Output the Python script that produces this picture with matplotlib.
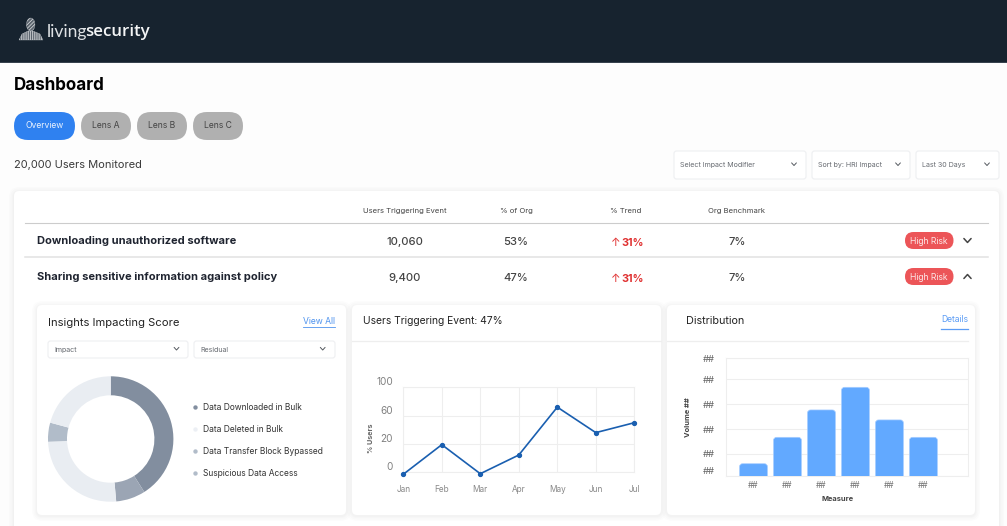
import numpy as np
import matplotlib
matplotlib.use("Agg")
import matplotlib.pyplot as plt
from matplotlib.patches import FancyBboxPatch, Rectangle, Ellipse, Polygon

W, H = 1007, 526
FONT = ["Inter", "DejaVu Sans"]
plt.rcParams["font.family"] = FONT
plt.rcParams["hatch.linewidth"] = 0.5

# chart values
tabs = ["Overview", "Lens A", "Lens B", "Lens C"]
filters = ["Select Impact Modifier", "Sort by: HRI Impact", "Last 30 Days"]
columns = ["Users Triggering Event", "% of Org", "% Trend", "Org Benchmark"]
events = ["Downloading unauthorized software", "Sharing sensitive information against policy"]
event_users = ["10,060", "9,400"]
event_org = ["53%", "47%"]
event_trend = ["31%", "31%"]
event_bench = ["7%", "7%"]

donut_labels = ["Data Downloaded in Bulk", "Data Deleted in Bulk",
                "Data Transfer Block Bypassed", "Suspicious Data Access"]
donut_values = [41, 7.6, 25.7, 4.9, 20.8]
donut_colors = ["#828e9f", "#9ba5b4", "#e9edf2", "#b1bcc9", "#e9edf2"]
legend_colors = ["#828e9f", "#eceff4", "#b1bcc9", "#b1bcc9"]

months = ["Jan", "Feb", "Mar", "Apr", "May", "Jun", "Jul"]
users_pct = [-1.4, 19.5, -1, 12.2, 72, 36, 50]
users_ticks = [0, 20, 60, 100]

measure_labels = ["##", "##", "##", "##", "##", "##"]
volume = [10.2, 32.7, 56, 75.3, 47.5, 32.7]
volume_ticks = [0, 18.75, 39.5, 60.8, 82, 100]

fig = plt.figure(figsize=(W / 100, H / 100), dpi=100, facecolor="#fdfdfd")
ui = fig.add_axes([0, 0, 1, 1])
ui.set_xlim(0, W)
ui.set_ylim(H, 0)
ui.axis("off")


def T(x, y, s, px, color="#333333", ha="left", weight="normal", **kw):
    return ui.text(x, y + 1, s, fontsize=px * 0.72, color=color, ha=ha, va="center",
                   fontweight=weight, **kw)


def box(x0, y0, x1, y1, r, fc, ec="none", lw=0.8, z=1, **kw):
    p = FancyBboxPatch((x0, y0), x1 - x0, y1 - y0, boxstyle=f"round,pad=0,rounding_size={r}",
                       fc=fc, ec=ec, lw=lw, zorder=z, **kw)
    ui.add_patch(p)
    return p


def card(x0, y0, x1, y1, z=1):
    # soft shadow from a few faint boxes
    for g in [5, 3.5, 2, 1]:
        box(x0 - g, y0 - g + 1, x1 + g, y1 + g + 1, 5 + g, "#000000", z=z, alpha=0.012)
    box(x0, y0, x1, y1, 5, "white", z=z)


def chevron(x, y, up=False, size=3.5, color="#555555", lw=1.0):
    d = -size * 0.55 if up else size * 0.55
    ui.plot([x - size, x, x + size], [y - d, y + d, y - d], color=color, lw=lw, zorder=5,
            solid_capstyle="round")


def dropdown(x0, y0, x1, y1, s, chev_x):
    box(x0, y0, x1, y1, 2.5, "white", ec="#eeeff1", z=4)
    T(x0 + 6, (y0 + y1) / 2 - 0.5, s, 7.1, color="#666a70", zorder=5)
    chevron(chev_x, (y0 + y1) / 2 - 0.8, size=2.4, color="#555a60", lw=0.7)


# header
ui.add_patch(Rectangle((0, 0), W, 62.5, fc="#17232f", ec="none"))
ui.plot([0, W], [62.3, 62.3], color="#39444f", lw=0.7)
ui.add_patch(Ellipse((30.7, 24.5), 8.5, 13, fc="#59626c", ec="#e2e4e6", lw=0.2, hatch="/////////"))
ui.add_patch(Polygon([[19, 40], [22, 34], [28, 31], [33, 31], [40, 34], [43, 40]],
                     fc="#59626c", ec="#e2e4e6", lw=0.2, hatch="|||||||||"))
T(46.5, 31, "living", 17.5, color="#dfe2e5", family="Lato")
T(85, 31, "security", 16.9, color="#f4f5f6", weight="semibold", family="Open Sans")

T(14, 84, "Dashboard", 17, color="black", weight="bold")

# tabs
tab_x = [(14, 75), (81, 131), (137, 187), (193, 243)]
for i, (s, (x0, x1)) in enumerate(zip(tabs, tab_x)):
    box(x0, 112, x1, 140, 14, "#2f81f0" if i == 0 else "#b0b0b0", z=2)
    T((x0 + x1) / 2, 125, s, 8.6, color="#eaf2fe" if i == 0 else "#444444", ha="center", zorder=3)

T(14, 164.5, "20,000 Users Monitored", 11.1, color="#3a3a3a")

# filters
dropdown(674, 151, 806, 179, filters[0], 794)
dropdown(812, 151, 910, 179, filters[1], 898)
dropdown(916, 151, 999, 179, filters[2], 987)

# main table card, runs off the bottom
card(14, 191, 999, 560)
col_x = [405, 516, 626, 737]
for x, s in zip(col_x, columns):
    T(x, 210, s, 7.7, color="#444444", ha="center", zorder=3)
ui.plot([25, 988], [223, 223], color="#cccccc", lw=0.8, zorder=3)
ui.plot([25, 988], [257, 257], color="#e2e2e2", lw=1.1, zorder=3)

row_y = [241, 277]
for i, y in enumerate(row_y):
    T(37, y - 0.5, events[i], 11.1, color="#1f2430", weight="bold", zorder=3)
    T(col_x[0], y, event_users[i], 11.2, color="#444444", ha="center", weight=500, zorder=3)
    T(col_x[1], y, event_org[i], 11.2, color="#444444", ha="center", weight=500, zorder=3)
    T(615.5, y + 1, "↑", 11.5, color="#e03131", ha="center", zorder=3)
    T(633, y + 0.8, event_trend[i], 10.8, color="#e03131", ha="center", weight="bold", zorder=3)
    T(col_x[3], y, event_bench[i], 11.2, color="#444444", ha="center", weight=500, zorder=3)
    box(905, y - 9, 953.5, y + 8, 8.5, "#ec5558", z=3)
    T(929.2, y - 1, "High Risk", 8.6, color="#fde9e9", ha="center", zorder=4)
    chevron(967.5, y - 0.5, up=i == 1, size=3.6, color="#444444", lw=1.1)

# lower cards
card(37, 305, 346, 515, z=2)
card(352, 305, 661, 515, z=2)
card(667, 305, 975, 515, z=2)

T(48, 322, "Insights Impacting Score", 11.2, color="#222222", zorder=4)
T(335, 320.5, "View All", 8.6, color="#4f93ee", ha="right", zorder=4)
ui.plot([303, 335], [326.5, 326.5], color="#4f93ee", lw=0.6, zorder=4)
dropdown(48, 341, 188, 358, "Impact", 176.5)
dropdown(194, 341, 335, 358, "Residual", 322.7)
for y, s, c in zip([407, 429, 451, 473], donut_labels, legend_colors):
    ui.scatter([195], [y], s=10, color=c, zorder=4, linewidths=0)
    T(203, y - 1, s, 8.4, color="#333333", zorder=4)

T(363, 320.5, "Users Triggering Event: 47%", 10.3, color="#222222", zorder=4)
ui.plot([352, 661], [341, 341], color="#eeeeee", lw=0.9, zorder=4)

T(686, 320.5, "Distribution", 10.8, color="#222222", zorder=4)
T(968, 319, "Details", 8.6, color="#5b9cf5", ha="right", zorder=4)
ui.plot([941, 968], [328.7, 328.7], color="#5b9cf5", lw=0.9, zorder=4)
ui.plot([667, 968], [341, 341], color="#eeeeee", lw=0.9, zorder=4)


def inset(x0, y0, x1, y1):
    return fig.add_axes([x0 / W, 1 - y1 / H, (x1 - x0) / W, (y1 - y0) / H], facecolor="none")


# donut
ax_d = inset(48, 376.3, 173.4, 501.7)
ax_d.pie(donut_values, colors=donut_colors, startangle=90, counterclock=False, radius=1,
         wedgeprops=dict(width=0.303, linewidth=0))
ax_d.set_xlim(-1, 1)
ax_d.set_ylim(-1, 1)


# line chart, the printed ticks are evenly spaced although their values are not
def fwd(v):
    v = np.asarray(v, dtype=float)
    return np.where(v < 20, v / 20, (v - 20) / 40 + 1)


def inv(p):
    p = np.asarray(p, dtype=float)
    return np.where(p < 1, p * 20, (p - 1) * 40 + 20)


ax_l = inset(403.3, 387.3, 634.3, 472.3)
ax_l.set_yscale("function", functions=(fwd, inv))
x_l = np.arange(len(months))
ax_l.plot(x_l, users_pct, color="#1a5fb0", lw=1.2, marker="o", ms=2.8, clip_on=False, zorder=5)
ax_l.set_xlim(0, 6)
ax_l.set_ylim(0, 100)
ax_l.set_yticks(users_ticks)
ax_l.set_yticklabels([str(t) for t in users_ticks])
ax_l.set_xticks(x_l)
ax_l.set_xticklabels(months)
ax_l.minorticks_off()
ax_l.grid(True, color="#eeeeee", lw=0.8)
ax_l.set_axisbelow(True)
ax_l.tick_params(axis="both", length=0)
ax_l.tick_params(axis="y", labelsize=7.2, labelcolor="#808080", pad=7.5)
ax_l.tick_params(axis="x", labelsize=5.9, labelcolor="#888888", pad=9)
for lab in ax_l.get_yticklabels():
    lab.set_va("bottom")
for s in ax_l.spines.values():
    s.set_color("#eeeeee")
    s.set_linewidth(0.8)
ax_l.set_ylabel("% Users", fontsize=5.2, color="#666666", fontweight="bold", labelpad=2)
ax_l.yaxis.set_label_coords(-0.127, 0.4)

# bar chart
ax_b = inset(726.3, 358.3, 968.3, 475.7)
x_b = np.arange(len(volume))
bars = ax_b.bar(x_b, volume, width=0.82, color="#62a9ff")
ax_b.set_xlim(-0.8, 6.32)
ax_b.set_ylim(0, 100)
# swap the square bars for ones with round corners
for r in bars:
    x0, y0, bw, bh = r.get_x(), r.get_y(), r.get_width(), r.get_height()
    r.set_visible(False)
    ax_b.add_patch(FancyBboxPatch((x0, y0 - 6), bw, bh + 6,
                                  boxstyle="round,pad=0,rounding_size=0.09", mutation_aspect=29,
                                  fc="#62a9ff", ec="#a6cdff", lw=0.5, zorder=3))
ax_b.set_xticks(x_b)
ax_b.set_xticklabels(measure_labels)
ax_b.set_yticks(volume_ticks)
ax_b.set_yticklabels(["##"] * len(volume_ticks))
ax_b.grid(True, axis="y", color="#eeeeee", lw=0.8)
ax_b.set_axisbelow(True)
ax_b.tick_params(axis="both", length=0)
ax_b.tick_params(axis="y", labelsize=6.8, labelcolor="#666666", pad=8)
ax_b.tick_params(axis="x", labelsize=6, labelcolor="#777777", pad=4)
ax_b.get_yticklabels()[0].set_va("bottom")
for s in ax_b.spines.values():
    s.set_color("#eeeeee")
    s.set_linewidth(0.8)
ax_b.set_xlabel("Measure", fontsize=5.4, color="#444444", fontweight="bold", labelpad=5)
ax_b.xaxis.set_label_coords(0.46, -0.17)
ax_b.set_ylabel("Volume ##", fontsize=5.4, color="#444444", fontweight="bold")
ax_b.yaxis.set_label_coords(-0.147, 0.5)

fig.savefig("out.png", dpi=100)
